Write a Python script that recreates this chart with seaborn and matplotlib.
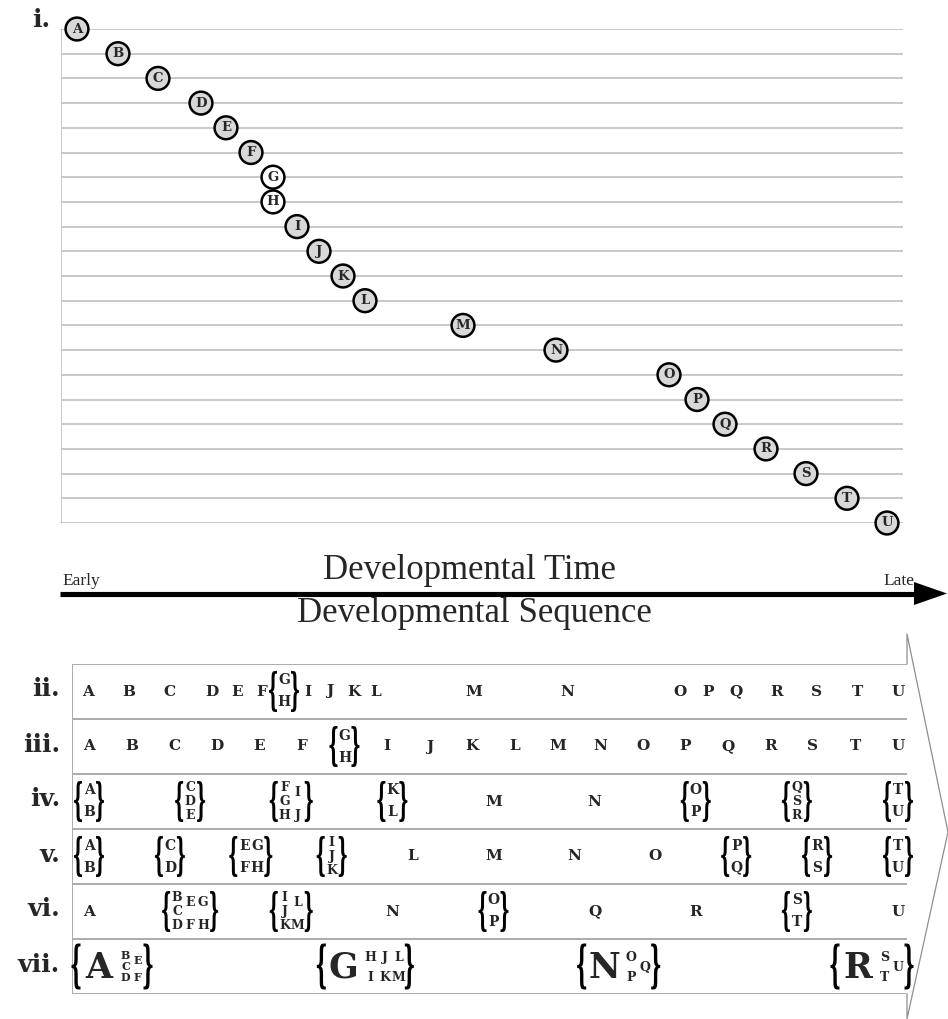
import numpy as np
import pandas as pd
import matplotlib
matplotlib.use("Agg")
import matplotlib.pyplot as plt
import seaborn as sns
from matplotlib.textpath import TextPath
from matplotlib.patches import PathPatch, Polygon
from matplotlib.font_manager import FontProperties
from matplotlib.transforms import Affine2D

# --- data ---------------------------------------------------------------
letters = list("ABCDEFGHIJKLMNOPQRSTU")
# onset of each event along developmental time (panel i.)
onset = [16, 57, 97, 140, 165, 190, 212, 212, 236, 258, 282, 304,
         402, 495, 608, 636, 664, 705, 745, 786, 826]

# sequences ii.-vii. : "/" splits columns inside a bracket, "X:" = large letter
seq_iii = ["A", "B", "C", "D", "E", "F", "GH", "I", "J", "K", "L", "M", "N",
           "O", "P", "Q", "R", "S", "T", "U"]
seq_iv = ["AB", "CDE", "FGH/IJ", "KL", "M", "N", "OP", "QSR", "TU"]
seq_v = ["AB", "CD", "EF/GH", "IJK", "L", "M", "N", "O", "PQ", "RS", "TU"]
seq_vi = ["A", "BCD/EF/GH", "IJK/LM", "N", "OP", "Q", "R", "ST", "U"]
seq_vii = ["A:BCD/EF", "G:HI/JK/LM", "N:OP/Q", "R:ST/U"]
row_labels = ["ii.", "iii.", "iv.", "v.", "vi.", "vii."]

# --- figure -------------------------------------------------------------
W, H = 948, 1019
ROW_PX = 55.0
SERIF = "DejaVu Serif"
GRID = "#c4c4c4"
BOX = "#ababab"

sns.set_theme(style="white")
plt.rcParams["font.family"] = [SERIF]

fig = plt.figure(figsize=(W / 100, H / 100), dpi=100)


def rect(x0, y0, x1, y1):
    return [x0 / W, 1 - y1 / H, (x1 - x0) / W, (y1 - y0) / H]


canvas = fig.add_axes([0, 0, 1, 1])
canvas.set_xlim(0, W)
canvas.set_ylim(H, 0)
canvas.axis("off")

top = fig.add_axes(rect(61, 29, 903, 523))
bot = fig.add_axes(rect(72, 664, 907, 994))
for a in (top, bot):
    a.set_facecolor("none")

# --- panel i. -----------------------------------------------------------
df = pd.DataFrame({"letter": letters, "onset": onset,
                   "rank": np.arange(len(letters))})
df["tie"] = df["onset"].duplicated(keep=False)

top.hlines(df["rank"], 0, 842, color=GRID, lw=1.3, zorder=0)
top.vlines(0, 0, 20, color=GRID, lw=1.3, zorder=0)
sns.scatterplot(data=df, x="onset", y="rank", hue="tie",
                palette={False: "#d8d8d8", True: "white"}, s=270,
                edgecolor="black", linewidth=1.8, legend=False, ax=top,
                clip_on=False, zorder=3)
for _, r in df.iterrows():
    top.text(r["onset"], r["rank"], r["letter"], ha="center", va="center",
             fontsize=9.5, fontweight="bold", family=SERIF, zorder=4)
top.set_xlim(0, 842)
top.set_ylim(20, 0)
top.axis("off")

canvas.text(50, 27, "i.", ha="right", va="baseline", fontsize=18,
            fontweight="bold", family=SERIF)

# --- time arrow ---------------------------------------------------------
canvas.plot([60, 920], [593.5, 593.5], color="black", lw=3.7,
            solid_capstyle="butt")
canvas.add_patch(Polygon([(914, 582), (947, 593.5), (914, 605)],
                         closed=True, fc="black", ec="none"))
canvas.text(62, 585, "Early", ha="left", va="baseline", fontsize=12.5,
            family="Liberation Serif")
canvas.text(914, 585, "Late", ha="right", va="baseline", fontsize=12.5,
            family="Liberation Serif")
canvas.text(470, 579, "Developmental Time", ha="center", va="baseline",
            fontsize=25, family="Liberation Serif")
canvas.text(474, 622, "Developmental Sequence", ha="center",
            va="baseline", fontsize=25, family="Liberation Serif")

# --- open chevron around the sequences ---------------------------------
canvas.plot([907, 907, 948, 907, 907], [664, 634, 832, 1019, 994],
            color="#8f8f8f", lw=0.9)

# --- panels ii.-vii. ----------------------------------------------------
_bf = FontProperties(family=SERIF, weight="bold")
_lb = TextPath((0, 0), "{", size=10, prop=_bf)
_rb = TextPath((0, 0), "}", size=10, prop=_bf)


def brace(path, x0, yc, w, h):
    ext = path.get_extents()
    hy = h / ROW_PX
    tr = (Affine2D().translate(-ext.x0, -ext.y1)
          .scale(w / ext.width, -hy / ext.height)
          .translate(x0, yc - hy / 2))
    bot.add_patch(PathPatch(tr.transform_path(path), fc="black", ec="none",
                            clip_on=False, zorder=3))


def put(x, y, dy, ch, fs):
    bot.text(x, y + dy / ROW_PX, ch, ha="center", va="center", fontsize=fs,
             fontweight="bold", family=SERIF, clip_on=False)


def stack(cols, x_first, yc, cg, fs, dy_map):
    n = max(len(c) for c in cols)
    for j, col in enumerate(cols):
        x = x_first + j * cg
        for k, ch in enumerate(col):
            put(x, yc, dy_map[(n, len(col))][k], ch, fs)


# vertical offsets (px) of the letters in a column: (rows, letters) -> dy
DY = {(2, 2): [-11, 11], (2, 1): [0],
      (3, 3): [-14, 0, 14], (3, 2): [-9, 14], (3, 1): [0]}
DY_SMALL = {(2, 2): [-9, 11], (2, 1): [1],
            (3, 3): [-11, 0, 11], (3, 2): [-6, 11], (3, 1): [0]}


def group(xc, yc, spec):
    if ":" in spec:
        big, rest = spec.split(":")
        cols = rest.split("/")
        n = max(len(c) for c in cols)
        cg = 12 if n == 3 else 14
        width = 69 + cg * (len(cols) - 1)
        xb = xc - width / 2 + 27
        put(xb, yc, 1, big, 25)
        fs = 9 if n == 2 else 8
        stack(cols, xb + 27, yc, cg, fs, DY_SMALL)
        brace(_lb, xb - 27, yc, 9, 46)
        brace(_rb, xb + 27 + cg * (len(cols) - 1) + 6, yc, 9, 46)
        return
    cols = spec.split("/")
    if len(cols) == 1 and len(cols[0]) == 1:
        put(xc, yc, 0, spec, 11)
        return
    n = max(len(c) for c in cols)
    cg = 13
    fs = 10 if n == 2 else 9
    hw = (len(cols) - 1) / 2 * cg + 6
    stack(cols, xc - (len(cols) - 1) / 2 * cg, yc, cg, fs, DY)
    brace(_lb, xc - hw - 9, yc, 8, 41)
    brace(_rb, xc + hw + 1, yc, 8, 41)


# ii. : same positions as panel i., events sharing a time bracketed
seq_ii = df.groupby("onset", sort=True)["letter"].apply("".join)
for t, spec in seq_ii.items():
    group(t, 0.5, spec)

for r, seq in enumerate([seq_iii, seq_iv, seq_v, seq_vi], start=1):
    for x, spec in zip(np.linspace(17, 826, len(seq)), seq):
        group(x, r + 0.5, spec)
for x, spec in zip(np.linspace(40, 800, len(seq_vii)), seq_vii):
    group(x, 5.5, spec)

bot.hlines(np.arange(7), 0, 835, color=BOX, lw=1.4, zorder=1)
bot.vlines(0, 0, 6, color=BOX, lw=1.4, zorder=1)
bot.set_xlim(0, 835)
bot.set_ylim(6, 0)
bot.axis("off")

for r, lab in enumerate(row_labels):
    canvas.text(60, 664 + (r + 0.5) * ROW_PX + 5, lab, ha="right",
                va="baseline", fontsize=18, fontweight="bold", family=SERIF)

fig.savefig("out.png", dpi=100, facecolor="white")
